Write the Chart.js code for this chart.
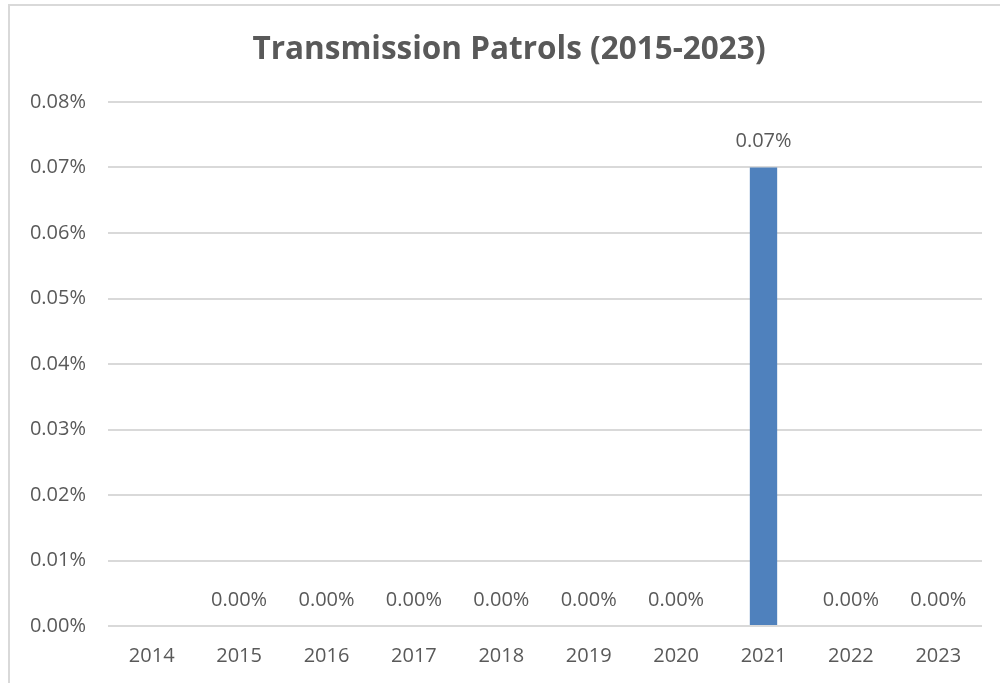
<!DOCTYPE html>
<html>
<head>
<meta charset="utf-8">
<script src="https://cdn.jsdelivr.net/npm/chart.js@4/dist/chart.umd.min.js"></script>
<style>
    html, body { margin: 0; padding: 0; background: #ffffff; }
    #wrap { position: relative; width: 1000px; height: 683px; overflow: hidden; }
    #frame {
        position: absolute; left: 8px; top: 4px; width: 1020px; height: 720px;
        border: 2px solid #d9d9d9; pointer-events: none;
    }
    canvas { position: absolute; left: 0; top: 0; }
</style>
</head>
<body>
<div id="wrap">
    <canvas id="chart" width="1000" height="683"></canvas>
    <div id="frame"></div>
</div>
<script>
const years = ["2014", "2015", "2016", "2017", "2018", "2019", "2020", "2021", "2022", "2023"];
// share of patrols, in percent (2014 has no reading)
const patrolShare = [null, 0, 0, 0, 0, 0, 0, 0.07, 0, 0];
const yTicks = [0, 0.01, 0.02, 0.03, 0.04, 0.05, 0.06, 0.07, 0.08];
const chartTitle = "Transmission Patrols (2015-2023)";

const LABEL_COLOR = "#595959";
const GRID_COLOR = "#d9d9d9";
const BAR_COLOR = "#4f81bd";
const FONT = "'Open Sans', 'Liberation Sans', sans-serif";

const fmtPct = (v) => v.toFixed(2) + "%";

// value labels drawn above each bar
const barLabels = {
    id: "barLabels",
    afterDatasetsDraw(chart) {
        const ctx = chart.ctx;
        const meta = chart.getDatasetMeta(0);
        ctx.save();
        ctx.font = "20px " + FONT;
        ctx.fillStyle = LABEL_COLOR;
        ctx.textAlign = "center";
        ctx.textBaseline = "middle";
        meta.data.forEach((bar, i) => {
            const v = patrolShare[i];
            if (v === null) {
                return;
            }
            ctx.fillText(fmtPct(v), bar.x, bar.y - 26);
        });
        ctx.restore();
    },
};

// title sits centred on the whole frame, not on the plot
const frameTitle = {
    id: "frameTitle",
    afterDraw(chart) {
        const ctx = chart.ctx;
        ctx.save();
        ctx.font = "bold 31.5px " + FONT;
        ctx.fillStyle = LABEL_COLOR;
        ctx.textAlign = "center";
        ctx.textBaseline = "middle";
        ctx.fillText(chartTitle, 509, 50);
        ctx.restore();
    },
};

new Chart(document.getElementById("chart"), {
    type: "bar",
    data: {
        labels: years,
        datasets: [{
            data: patrolShare,
            backgroundColor: BAR_COLOR,
            borderWidth: 0,
            categoryPercentage: 1,
            barPercentage: 0.313,
        }],
    },
    options: {
        responsive: false,
        animation: false,
        layout: { padding: { left: 0, right: 18, top: 102, bottom: 0 } },
        plugins: {
            legend: { display: false },
            tooltip: { enabled: false },
            title: { display: false },
        },
        scales: {
            x: {
                grid: { display: false, drawTicks: false },
                border: { display: false },
                ticks: {
                    color: LABEL_COLOR,
                    font: { family: FONT, size: 20 },
                    padding: 18,
                    maxRotation: 0,
                },
                afterFit(scale) {
                    scale.height = 57;
                },
            },
            y: {
                min: 0,
                max: 0.08,
                afterBuildTicks(scale) {
                    scale.ticks = yTicks.map((v) => ({ value: v }));
                },
                grid: { color: GRID_COLOR, lineWidth: 2, drawTicks: false },
                border: { display: false },
                ticks: {
                    color: LABEL_COLOR,
                    font: { family: FONT, size: 20 },
                    padding: 22,
                    callback: (v) => fmtPct(v),
                },
                afterFit(scale) {
                    scale.width = 108;
                },
            },
        },
    },
    plugins: [barLabels, frameTitle],
});
</script>
</body>
</html>
